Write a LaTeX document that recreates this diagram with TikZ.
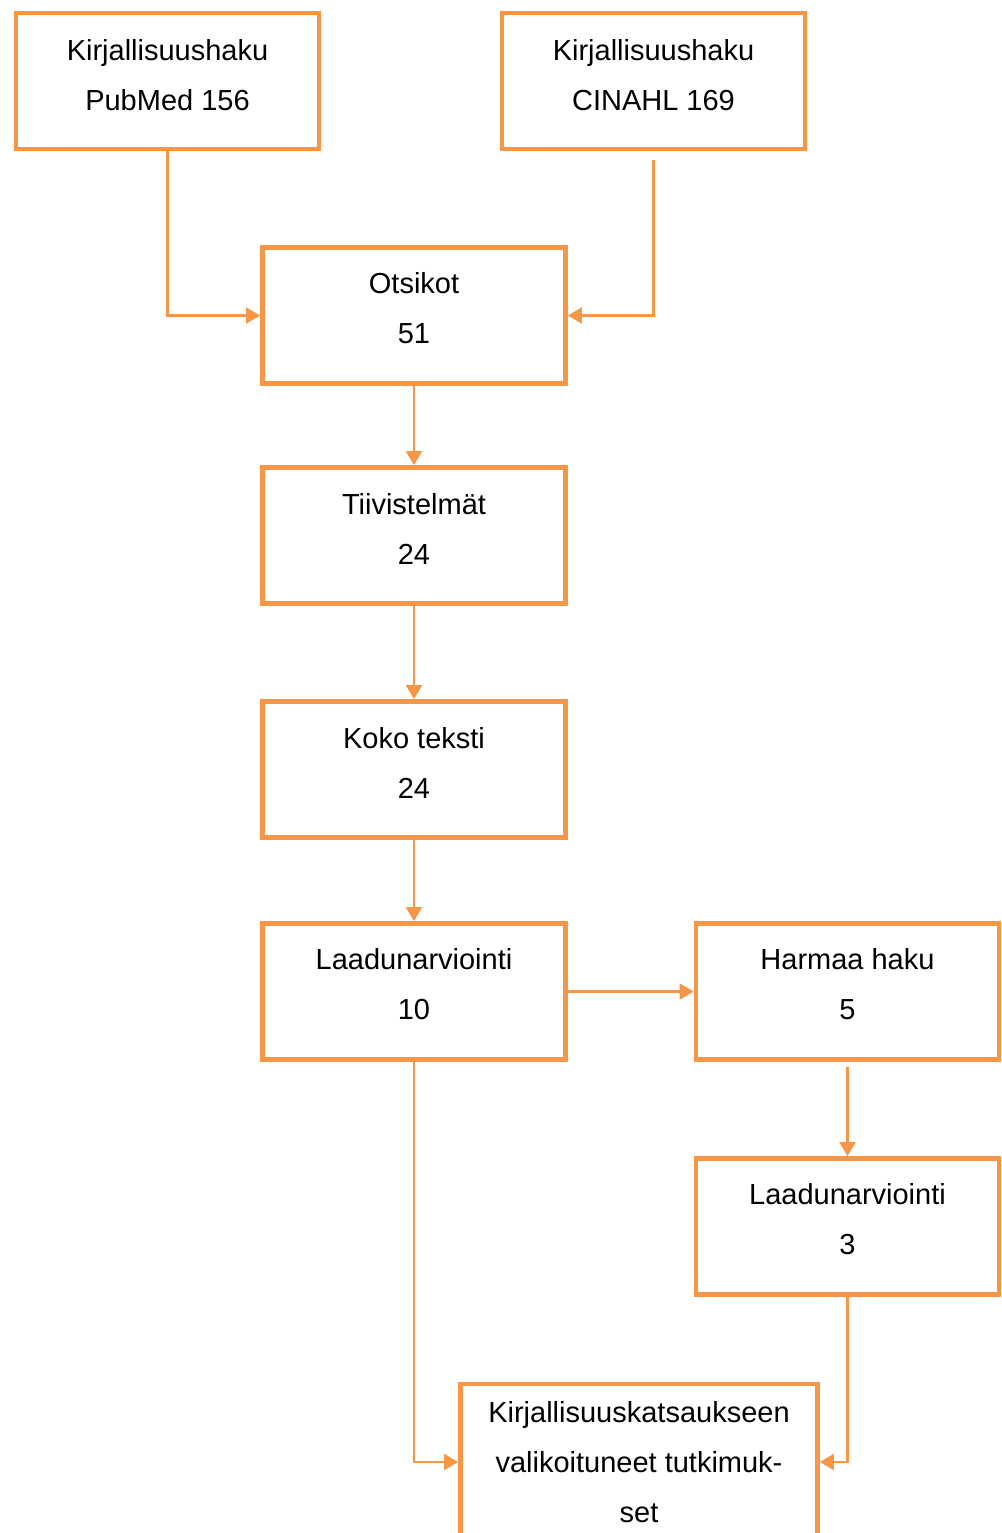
\documentclass[tikz,border=0pt]{standalone}
\usepackage{fontspec}
\setmainfont{Liberation Sans}
\usetikzlibrary{arrows.meta}
\definecolor{orng}{HTML}{F79646}

\begin{document}
\begin{tikzpicture}[x=0.5pt, y=-0.5pt,
  stagebox/.style={draw=orng, line width=2.4pt, minimum width=151.5pt, minimum height=68pt, inner sep=0pt},
  stagetext/.style={align=center, inner sep=0pt, font=\fontsize{14.5}{25}\selectfont},
  flow/.style={draw=orng, line width=1.1pt, -{Triangle[length=7pt,width=8pt]}}]
\useasboundingbox (0,0) rectangle (1002,1533);
% boxes
\node[stagebox] (PubMed) at (167.5,81) {};
\node[stagebox] (Cinahl) at (653.5,81) {};
\node[stagebox] (Otsikot) at (414,315.5) {};
\node[stagebox] (Tiiv) at (414,535.5) {};
\node[stagebox] (Koko) at (414,769.5) {};
\node[stagebox] (Laatu1) at (414,991.5) {};
\node[stagebox] (Harmaa) at (847.5,991.5) {};
\node[stagebox] (Laatu2) at (847.5,1226.5) {};
\node[stagebox, minimum width=178.5pt, minimum height=78pt] (Tulos) at (639,1462) {};
% texts
\node[stagetext] (PubMedT) at ([yshift=3pt]PubMed) {Kirjallisuushaku\\PubMed 156};
\node[stagetext] (CinahlT) at ([yshift=3pt]Cinahl) {Kirjallisuushaku\\CINAHL 169};
\node[stagetext] (OtsikotT) at ([yshift=3.5pt]Otsikot) {Otsikot\\51};
\node[stagetext] (TiivT) at ([yshift=3.5pt]Tiiv) {Tiivistelmät\\24};
\node[stagetext] (KokoT) at ([yshift=3.5pt]Koko) {Koko teksti\\24};
\node[stagetext] (Laatu1T) at ([yshift=3.5pt]Laatu1) {Laadunarviointi\\10};
\node[stagetext] (HarmaaT) at ([yshift=3.5pt]Harmaa) {Harmaa haku\\5};
\node[stagetext] (Laatu2T) at ([yshift=3.5pt]Laatu2) {Laadunarviointi\\3};
\node[stagetext] (TulosT) at (Tulos) {Kirjallisuuskatsaukseen\\valikoituneet tutkimuk-\\set};
% connectors
\draw[flow] (PubMed.south) |- (Otsikot.west);
\draw[flow] ([yshift=-4.5pt]Cinahl.south) |- (Otsikot.east);
\draw[flow] (Otsikot) -- (Tiiv);
\draw[flow] (Tiiv) -- (Koko);
\draw[flow] (Koko) -- (Laatu1);
\draw[flow] (Laatu1) -- (Harmaa);
\draw[flow] ([yshift=-2.5pt]Harmaa.south) -- (Laatu2);
\draw[flow] (Laatu1.south) |- (Tulos.west);
\draw[flow] (Laatu2.south) |- (Tulos.east);
\end{tikzpicture}
\end{document}
